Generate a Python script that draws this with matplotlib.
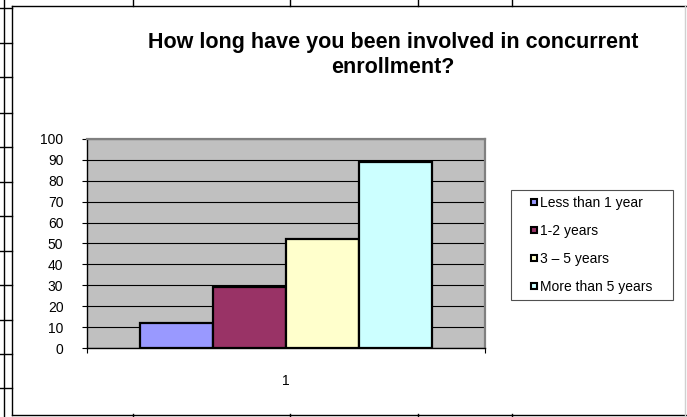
import matplotlib
matplotlib.use("Agg")
import matplotlib.pyplot as plt
from matplotlib.lines import Line2D
import numpy as np

plt.rcParams['font.family'] = ['Liberation Sans', 'DejaVu Sans']

# survey answers
labels = ['Less than 1 year', '1-2 years', '3 \u2013 5 years', 'More than 5 years']
values = [12, 29, 52, 89]
colors = ['#9999FF', '#993366', '#FFFFCC', '#CCFFFF']
category = ['1']

W, H = 687, 417
fig = plt.figure(figsize=(W / 100, H / 100), dpi=100)


def px(x, y):
    # pixel position (from top left) -> figure fraction
    return x / W, 1 - y / H


def fig_line(x0, y0, x1, y1, color='black', lw=1.0):
    a, b = px(x0, y0)
    c, d = px(x1, y1)
    fig.add_artist(Line2D([a, c], [b, d], color=color, lw=lw))


# worksheet cell borders around the chart object
fig_line(4, 0, 4, H)
for yy in [8, 43, 77, 113, 147, 182, 216, 251, 285, 320, 354, 388]:
    fig_line(0, yy, 12, yy)
for xx in [133, 290, 418, 512]:
    fig_line(xx, 0, xx, 6)
    fig_line(xx, 414, xx, H)

# chart frame
fig_line(12, 6, W, 6)
fig_line(12, 6, 12, 415)
fig_line(12, 415, W, 415)
fig_line(685, 6, 685, 415, color='#d0d0d0')

# plot area
l, b = px(87, 348)
r, t = px(485, 139)
ax = fig.add_axes([l, b, r - l, t - b])
ax.set_facecolor('#C0C0C0')

bw = 0.1834
x = (np.arange(len(values)) - (len(values) - 1) / 2) * bw
ax.bar(x, values, width=bw, color=colors, edgecolor='black', linewidth=1.6, zorder=3)

ax.set_xlim(-0.5, 0.5)
ax.set_ylim(0, 100)
ax.set_yticks(np.arange(0, 101, 10))
ax.yaxis.grid(True, color='black', linewidth=0.8, zorder=1)
ax.set_axisbelow(True)
ax.tick_params(axis='y', direction='out', length=3.5, width=0.8, pad=13.5,
               labelsize=10, color='black')

ax.set_xticks([0])
ax.set_xticklabels(category)
ax.set_xticks([-0.5, 0.5], minor=True)
ax.tick_params(axis='x', which='major', length=0, pad=19, labelsize=10)
ax.tick_params(axis='x', which='minor', direction='out', length=3.5, width=0.8)

for s in ['top', 'right']:
    ax.spines[s].set_color('#808080')
    ax.spines[s].set_linewidth(1.6)
for s in ['left', 'bottom']:
    ax.spines[s].set_color('black')
    ax.spines[s].set_linewidth(1.0)

# title
tx, ty = px(393, 55)
fig.text(tx, ty, 'How long have you been involved in concurrent\nenrollment?',
         ha='center', va='center', fontsize=15.5, fontweight='bold',
         linespacing=1.2)

# legend
handles = [Line2D([], [], linestyle='', marker='s', markersize=5,
                  markerfacecolor=c, markeredgecolor='black', markeredgewidth=1.5)
           for c in colors]
lx, ly = px(511, 298)
leg = ax.legend(handles, labels, loc='upper left',
                bbox_to_anchor=(lx, ly, 162 / W, 108 / H),
                bbox_transform=fig.transFigure, mode='expand',
                borderaxespad=0, borderpad=0.45, labelspacing=1.0,
                handlelength=2.36, handletextpad=-0.75, fontsize=10,
                frameon=True, fancybox=False, framealpha=1)
leg.get_frame().set_edgecolor('#505050')
leg.get_frame().set_linewidth(0.8)

fig.savefig('out.png', dpi=100)
